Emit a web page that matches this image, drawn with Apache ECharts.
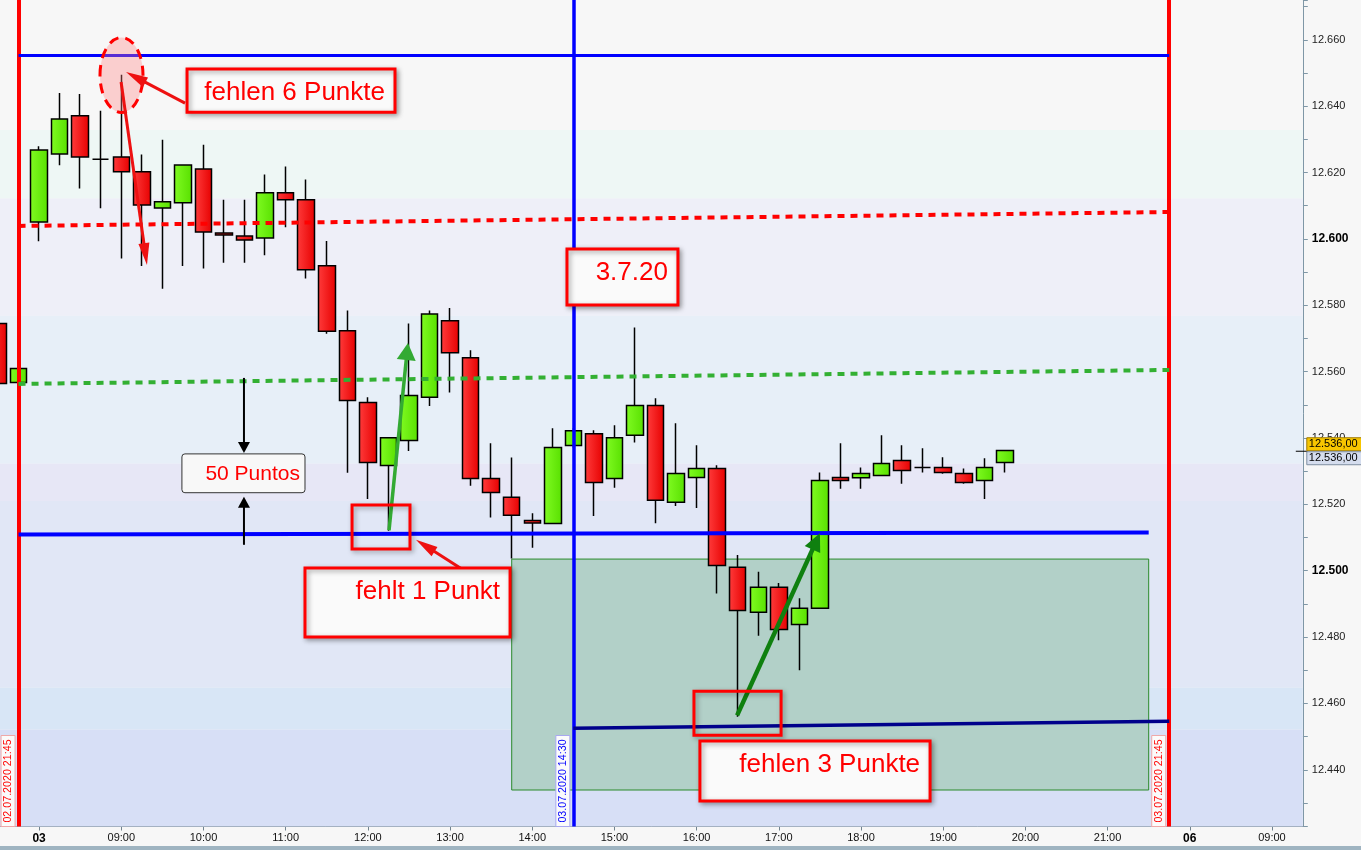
<!DOCTYPE html>
<html><head><meta charset="utf-8">
<script src="https://cdn.jsdelivr.net/npm/echarts@6/dist/echarts.min.js"></script>
<style>html,body{margin:0;padding:0;background:#f7f7f7;overflow:hidden}#c{width:1361px;height:850px}</style>
</head><body><div id="c"></div>
<script>
// ---------- categories (15-minute bars) ----------
const categories = [
 '02.07 21:30','02.07 21:45',
 '03.07 08:00','03.07 08:15','03.07 08:30','03.07 08:45',
 '03.07 09:00','03.07 09:15','03.07 09:30','03.07 09:45',
 '03.07 10:00','03.07 10:15','03.07 10:30','03.07 10:45',
 '03.07 11:00','03.07 11:15','03.07 11:30','03.07 11:45',
 '03.07 12:00','03.07 12:15','03.07 12:30','03.07 12:45',
 '03.07 13:00','03.07 13:15','03.07 13:30','03.07 13:45',
 '03.07 14:00','03.07 14:15','03.07 14:30','03.07 14:45',
 '03.07 15:00','03.07 15:15','03.07 15:30','03.07 15:45',
 '03.07 16:00','03.07 16:15','03.07 16:30','03.07 16:45',
 '03.07 17:00','03.07 17:15','03.07 17:30','03.07 17:45',
 '03.07 18:00','03.07 18:15','03.07 18:30','03.07 18:45',
 '03.07 19:00','03.07 19:15','03.07 19:30','03.07 19:45',
 '03.07 20:00','03.07 20:15','03.07 20:30','03.07 20:45',
 '03.07 21:00','03.07 21:15','03.07 21:30','03.07 21:45',
 '06.07 08:00','06.07 08:15','06.07 08:30','06.07 08:45','06.07 09:00','06.07 09:15'
];
// ---------- OHLC values ----------
const opens  = [12574.5,12556.7,12605.1,12625.6,12637.1,12624.0,12624.7,12620.2,12609.3,12610.9,
                12621.1,12601.8,12600.9,12600.3,12613.9,12611.8,12591.9,12572.3,12550.7,12531.7,
                12539.2,12552.3,12575.3,12564.2,12527.8,12522.1,12515.1,12514.2,12537.7,12541.3,
                12527.8,12540.8,12549.8,12520.6,12528.1,12530.8,12501.0,12487.5,12495.0,12483.8,
                12488.7,12528.1,12528.0,12528.7,12533.2,12531.1,12531.1,12529.3,12527.2,12532.6];
const closes = [12556.4,12560.9,12626.8,12636.1,12624.7,12624.0,12620.2,12610.2,12611.2,12622.3,
                12602.1,12601.2,12599.7,12613.9,12611.8,12590.7,12572.2,12551.3,12532.6,12540.1,
                12552.8,12577.4,12565.7,12527.8,12523.6,12516.7,12514.4,12537.1,12542.2,12526.6,
                12540.1,12549.8,12521.2,12529.3,12530.8,12501.6,12488.0,12495.0,12482.3,12488.7,
                12527.2,12527.2,12529.3,12532.3,12530.2,12531.1,12529.6,12526.6,12531.1,12536.2];
const lows   = [12555.0,12556.0,12599.3,12622.2,12615.2,12609.2,12594.1,12591.8,12585.0,12591.8,
                12591.1,12592.8,12592.8,12595.1,12603.5,12588.1,12571.4,12529.5,12521.6,12512.0,
                12536.1,12549.6,12553.7,12525.6,12516.0,12503.7,12506.9,12514.2,12537.0,12516.5,
                12525.0,12538.6,12514.3,12519.5,12518.9,12493.1,12456.0,12480.4,12479.0,12470.0,
                12488.7,12524.7,12524.7,12528.7,12526.2,12529.6,12529.2,12526.2,12521.6,12529.6];
const highs  = [12576.0,12561.5,12627.9,12644.0,12643.7,12638.6,12649.5,12625.4,12629.9,12622.3,
                12628.4,12611.8,12611.8,12619.4,12621.8,12617.9,12599.4,12578.4,12552.3,12540.1,
                12574.5,12578.4,12579.2,12566.4,12538.4,12534.1,12517.3,12542.9,12543.0,12542.3,
                12543.8,12573.3,12552.0,12544.4,12537.8,12531.8,12504.7,12499.7,12496.3,12491.7,
                12529.6,12538.4,12531.1,12540.8,12537.8,12536.9,12534.2,12530.8,12533.9,12536.2];
// ---------- tick labels ----------
const tickCategories = ['03.07 08:00','03.07 09:00','03.07 10:00','03.07 11:00','03.07 12:00','03.07 13:00',
  '03.07 14:00','03.07 15:00','03.07 16:00','03.07 17:00','03.07 18:00','03.07 19:00','03.07 20:00',
  '03.07 21:00','06.07 08:00','06.07 09:00'];
const tickLabels = ['03','09:00','10:00','11:00','12:00','13:00','14:00','15:00','16:00','17:00','18:00',
  '19:00','20:00','21:00','06','09:00'];
const dayLabels = ['03','06'];
const yMin = 12422.9, yMax = 12672.0;
const boldLevels = [12600, 12500];
const lastPrice = 12536;
// ---------- background bands (value edges) ----------
const bandEdges = [12672.0,12632.8,12612.2,12576.8,12532.2,12521.0,12464.7,12452.1,12422.9];
const bandColors = ['#f7f7f7','#eef7f5','#eeeff8','#e7eff8','#e7e7f6','#e1e7f6','#d8e6f6','#d7dff6'];
// ---------- drawn levels ----------
const verticalMarks = ['02.07 21:45','03.07 14:30','03.07 21:45'];
const verticalTexts = ['02.07.2020 21:45','03.07.2020 14:30','03.07.2020 21:45'];
const topLevel     = [['02.07 21:45',12655.3],['03.07 21:45',12655.3]];
const supportLevel = [['02.07 21:45',12510.9],['03.07 21:30',12511.5]];
const lowLevel     = [['03.07 14:30',12452.5],['03.07 21:45',12454.6]];
const redTrend     = [['02.07 21:45',12603.9],['03.07 21:45',12608.1]];
const greenTrend   = [['02.07 21:45',12556.3],['03.07 21:45',12560.5]];
const zoneBox      = [['03.07 13:45',12503.5],['03.07 21:30',12433.9]];
// ---------- annotations (bar index, price) ----------
const noteBoxes = [
  {text:'fehlen 6 Punkte', x:[9.20,19.32], y:[12651.2,12638.2]},
  {text:'3.7.20',          x:[27.69,33.09], y:[12596.95,12580.1]},
  {text:'fehlt 1 Punkt',   x:[14.94,24.92], y:[12500.8,12480.0]},
  {text:'fehlen 3 Punkte', x:[34.16,45.36], y:[12448.7,12430.6]}
];
const pointsBox = {text:'50 Puntos', x:[8.95,14.94], y:[12535.2,12523.5]};
const squares = [ {x:[17.23,20.05], y:[12519.8,12506.5]}, {x:[33.87,38.11], y:[12463.7,12450.4]} ];
const redArrows = [
  {from:[9.10,12640.9], to:[6.23,12650.3]},
  {from:[5.99,12647.3], to:[7.25,12592.1]},
  {from:[22.78,12499.7], to:[20.34,12509.3]}
];
const lightGreenArrow = {from:[19.03,12512.2], to:[19.95,12568.6]};
const darkGreenArrow  = {from:[35.97,12456.4], to:[40.0,12511.3]};
const blackArrows = [ {from:[11.97,12558.1], to:[11.97,12535.5]}, {from:[11.97,12507.8], to:[11.97,12522.3]} ];
const highlight = {x:6.01, y:12649.4};

const FONT = 'Liberation Sans';
const chart = echarts.init(document.getElementById('c'), null, {renderer:'canvas'});
const candleData = opens.map((o,i)=>[o, closes[i], lows[i], highs[i]]);
const fmtPrice = v => { const s = String(Math.round(v)); return s.slice(0,s.length-3)+'.'+s.slice(-3); };
const tickIdx = new Set(tickCategories.map(c=>categories.indexOf(c)));
const G = echarts.graphic;

const bandItems = bandColors.map((c,i)=>[{yAxis:bandEdges[i], itemStyle:{color:c}},{yAxis:bandEdges[i+1]}]);
bandItems.push([{coord:zoneBox[0], itemStyle:{color:'#b2d0c8', borderColor:'#2a8a2a', borderWidth:1}},{coord:zoneBox[1]}]);

const seg = (pts, style) => [{coord:pts[0], lineStyle:style},{coord:pts[1]}];

const option = {
  animation:false,
  backgroundColor:'#f7f7f7',
  grid:{left:-12.27, right:58.2, top:0, bottom:23.5, containLabel:false, outerBoundsMode:'none'},
  xAxis:{
    type:'category', data:categories, boundaryGap:true,
    axisLine:{show:true, lineStyle:{color:'#71838f', width:1}},
    axisTick:{show:true, alignWithLabel:true, length:4, interval:(i)=>tickIdx.has(i), lineStyle:{color:'#71838f'}},
    axisLabel:{
      interval:(i)=>tickIdx.has(i),
      formatter:(v)=>{ const k=tickCategories.indexOf(v); if(k<0) return ''; const t=tickLabels[k]; return dayLabels.includes(t)?'{d|'+t+'}':t; },
      color:'#111', fontSize:11, fontFamily:FONT, margin:6,
      rich:{d:{fontWeight:'bold', fontSize:12, fontFamily:FONT, color:'#000'}}
    },
    splitLine:{show:false}
  },
  yAxis:{
    type:'value', position:'right', min:yMin, max:yMax, minInterval:10, maxInterval:10, scale:true,
    axisLine:{show:true, lineStyle:{color:'#7f97a6'}},
    axisTick:{show:true, length:5, lineStyle:{color:'#7f97a6'}},
    axisLabel:{
      formatter:(v)=>{ if(Math.abs(v%20)>0.01) return ''; const t=fmtPrice(v); return boldLevels.includes(Math.round(v))?'{b|'+t+'}':t; },
      color:'#222', fontSize:11, fontFamily:FONT, margin:9,
      rich:{b:{fontWeight:'bold', fontSize:12, fontFamily:FONT, color:'#000'}}
    },
    splitLine:{show:false}
  },
  series:[{
    type:'candlestick', data:candleData, barWidth:17, z:2,
    itemStyle:{
      color:new G.LinearGradient(0,0,1,0,[{offset:0,color:'#80fb22'},{offset:1,color:'#58e000'}]),
      color0:new G.LinearGradient(0,0,1,0,[{offset:0,color:'#ff3c3c'},{offset:1,color:'#e60000'}]),
      borderColor:'#000', borderColor0:'#000', borderColorDoji:'#000', borderWidth:1.5
    },
    emphasis:{disabled:true},
    markArea:{silent:true, z:1, label:{show:false}, emphasis:{disabled:true}, data:bandItems},
    markLine:{
      silent:true, z:5, symbol:['none','none'], label:{show:false}, emphasis:{disabled:true},
      data:[
        {xAxis:verticalMarks[0], lineStyle:{color:'#ff0000', width:4, type:'solid'}},
        {xAxis:verticalMarks[1], lineStyle:{color:'#0000ff', width:3.5, type:'solid'}},
        {xAxis:verticalMarks[2], lineStyle:{color:'#ff0000', width:4, type:'solid'}},
        seg(topLevel,{color:'#0000ff', width:3, type:'solid'}),
        seg(supportLevel,{color:'#0000ff', width:4, type:'solid'}),
        seg(lowLevel,{color:'#00008b', width:3.5, type:'solid'}),
        seg(redTrend,{color:'#ff0000', width:4, type:[7,6]}),
        seg(greenTrend,{color:'#33b033', width:4, type:[7,6]})
      ]
    }
  }]
};
chart.setOption(option);

// ---------- overlay drawing anchored to data coordinates ----------
const xa = chart.convertToPixel({xAxisIndex:0}, 0);
const xb = chart.convertToPixel({xAxisIndex:0}, 1);
const px = (i,v)=>[xa+(xb-xa)*i, chart.convertToPixel({yAxisIndex:0}, v)];
const plotRight = xa+(xb-xa)*(categories.length-0.5);
const plotBottom = chart.convertToPixel({yAxisIndex:0}, yMin);
const els = [];
const shadow = {shadowBlur:5, shadowColor:'rgba(0,0,0,0.35)', shadowOffsetX:2, shadowOffsetY:2};

function arrow(a,b,color,w,hl,hw){
  const p=px(a[0],a[1]), q=px(b[0],b[1]);
  const dx=q[0]-p[0], dy=q[1]-p[1], L=Math.hypot(dx,dy), ux=dx/L, uy=dy/L;
  const bx=q[0]-ux*hl, by=q[1]-uy*hl, nx=-uy, ny=ux;
  els.push({type:'line', z:110, shape:{x1:p[0],y1:p[1],x2:bx+ux*1,y2:by+uy*1}, style:{stroke:color, lineWidth:w}});
  els.push({type:'polygon', z:110, shape:{points:[[q[0],q[1]],[bx+nx*hw/2,by+ny*hw/2],[bx-nx*hw/2,by-ny*hw/2]]}, style:{fill:color}});
}
// ellipse highlight
{
  const c = px(highlight.x, highlight.y);
  els.push({type:'ellipse', z:105, shape:{cx:c[0], cy:c[1], rx:21.5, ry:37.5},
    style:{fill:'rgba(255,130,130,0.35)', stroke:'#ff0000', lineWidth:3, lineDash:[10,7]}});
}
redArrows.forEach(a=>arrow(a.from,a.to,'#ee1111',3,22,11));
arrow(lightGreenArrow.from, lightGreenArrow.to, '#33aa33', 3.5, 17, 19);
arrow(darkGreenArrow.from, darkGreenArrow.to, '#0f800f', 4.5, 18, 17);
blackArrows.forEach(a=>arrow(a.from,a.to,'#000',2,11,12));

noteBoxes.forEach(b=>{
  const p1=px(b.x[0],b.y[0]), p2=px(b.x[1],b.y[1]);
  els.push({type:'rect', z:120, shape:{x:p1[0],y:p1[1],width:p2[0]-p1[0],height:p2[1]-p1[1]},
    style:Object.assign({fill:'#fafafa', stroke:'#ff0000', lineWidth:3}, shadow)});
  els.push({type:'text', z:121, x:p2[0]-10, y:p1[1]+24,
    style:{text:b.text, fill:'#ff0000', font:'26px "'+FONT+'"', align:'right', verticalAlign:'middle', textAlign:'right', textVerticalAlign:'middle'}});
});
{
  const b=pointsBox, p1=px(b.x[0],b.y[0]), p2=px(b.x[1],b.y[1]);
  els.push({type:'rect', z:120, shape:{x:p1[0],y:p1[1],width:p2[0]-p1[0],height:p2[1]-p1[1],r:3},
    style:{fill:'#f8f8f8', stroke:'#333', lineWidth:1}});
  els.push({type:'text', z:121, x:p2[0]-5, y:(p1[1]+p2[1])/2+1,
    style:{text:b.text, fill:'#ff0000', font:'21px "'+FONT+'"', align:'right', verticalAlign:'middle', textAlign:'right', textVerticalAlign:'middle'}});
}
squares.forEach(s=>{
  const p1=px(s.x[0],s.y[0]), p2=px(s.x[1],s.y[1]);
  els.push({type:'rect', z:115, shape:{x:p1[0],y:p1[1],width:p2[0]-p1[0],height:p2[1]-p1[1]},
    style:Object.assign({fill:'none', stroke:'#ff0000', lineWidth:3}, shadow)});
});
// vertical date labels
verticalMarks.forEach((m,k)=>{
  const x = px(categories.indexOf(m), yMin)[0];
  const col = k===1 ? '#0000ff' : '#ff0000';
  const bcol = k===1 ? '#a8a8f0' : '#f0a8a8';
  els.push({type:'rect', z:100, shape:{x:x-17.5, y:plotBottom-91, width:14, height:91},
    style:{fill:'#fbfbfb', stroke:bcol, lineWidth:1}});
  els.push({type:'text', z:101, x:x-10.5, y:plotBottom-45.5, rotation:Math.PI/2,
    style:{text:verticalTexts[k], fill:col, font:'10.7px "'+FONT+'"', align:'center', verticalAlign:'middle', textAlign:'center', textVerticalAlign:'middle'}});
});
// last price labels
{
  const py = px(0,lastPrice)[1];
  const txt = fmtPrice(lastPrice)+',00';
  els.push({type:'line', z:130, shape:{x1:plotRight-7,y1:py,x2:plotRight+5,y2:py}, style:{stroke:'#000', lineWidth:1}});
  els.push({type:'rect', z:130, shape:{x:plotRight+4, y:py-13.5, width:56, height:13},
    style:{fill:'#f7c600', stroke:'#a07a00', lineWidth:1}});
  els.push({type:'text', z:131, x:plotRight+6, y:py-7, style:{text:txt, fill:'#000', font:'11px "'+FONT+'"', align:'left', verticalAlign:'middle', textAlign:'left', textVerticalAlign:'middle'}});
  els.push({type:'rect', z:130, shape:{x:plotRight+4, y:py+0.5, width:56, height:13},
    style:{fill:'#d5ddee', stroke:'#7e8ea0', lineWidth:1}});
  els.push({type:'text', z:131, x:plotRight+6, y:py+7, style:{text:txt, fill:'#000', font:'11px "'+FONT+'"', align:'left', verticalAlign:'middle', textAlign:'left', textVerticalAlign:'middle'}});
}
// bottom frame strip
els.push({type:'rect', z:0, shape:{x:0, y:846, width:1361, height:4}, style:{fill:'#9fb4c1'}});
chart.setOption({graphic:{elements:els}});
</script></body></html>
